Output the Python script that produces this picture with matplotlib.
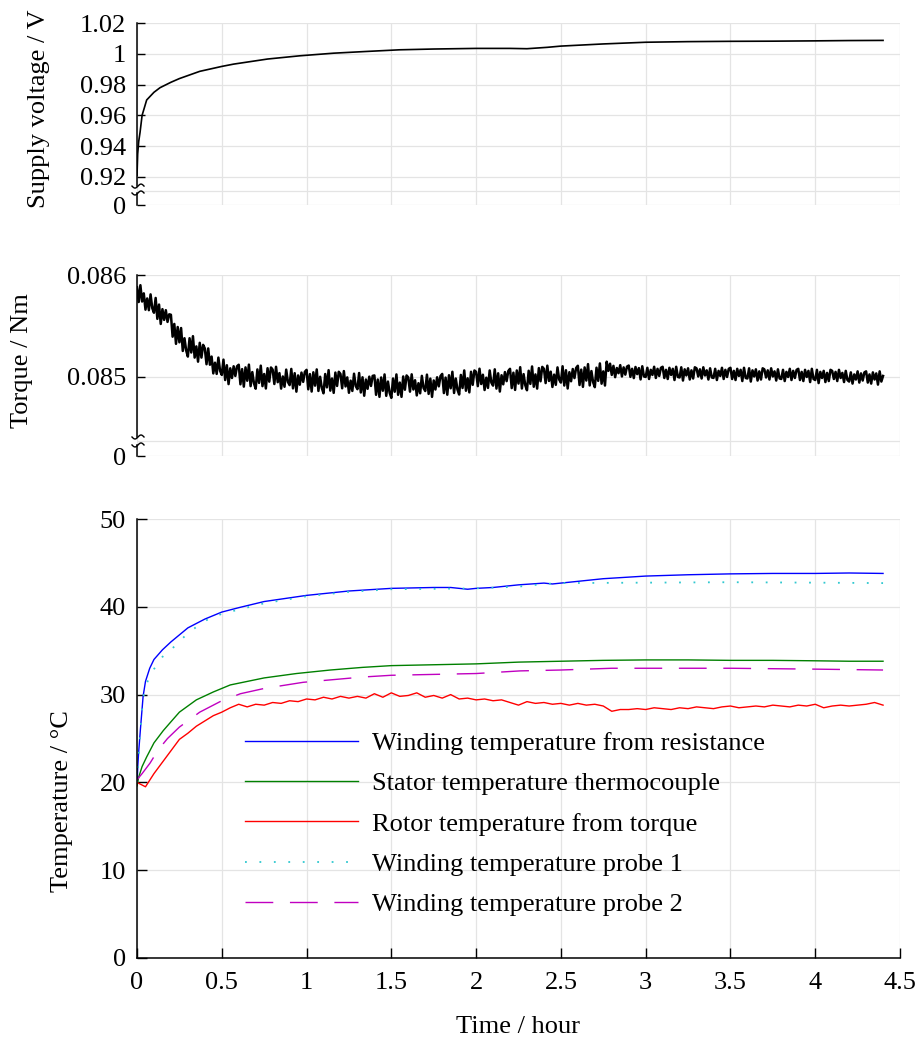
import numpy as np
import matplotlib
matplotlib.use('Agg')
import matplotlib.pyplot as plt

plt.rcParams['font.family'] = ['Liberation Serif', 'DejaVu Serif']
plt.rcParams['font.size'] = 19

# ---- supply voltage (V) ----
volt_t = [0, 0.004, 0.01, 0.018, 0.03, 0.057, 0.1, 0.136, 0.2, 0.25, 0.37, 0.5, 0.57,
          0.77, 0.96, 1.16, 1.35, 1.55, 1.75, 2.0, 2.2, 2.3, 2.42, 2.5, 2.75, 3.0,
          3.25, 3.5, 3.75, 4.0, 4.2, 4.4]
volt_v = [0.921, 0.935, 0.943, 0.949, 0.960, 0.970, 0.975, 0.978, 0.9815, 0.9839,
          0.9886, 0.9918, 0.9933, 0.9966, 0.9987, 1.0004, 1.0015, 1.0026, 1.0031,
          1.0035, 1.0035, 1.0033, 1.0042, 1.0050, 1.0064, 1.0075, 1.0079, 1.0081,
          1.0082, 1.0084, 1.0086, 1.0087]

# ---- torque: offset from 85 mNm in uNm, one value every 0.01 h (0 .. 4.4 h) ----
torque_dev_uNm = [
    880, 735, 900, 740, 820, 660, 770, 655, 810, 675, 630, 775, 570, 710, 520, 665, 560, 655, 540, 615,
    610, 395, 520, 325, 490, 340, 480, 255, 380, 260, 200, 380, 240, 400, 190, 300, 150, 335, 190, 315,
    280, 125, 280, 120, 200, 35, 140, 30, 190, 60, 20, 170, -30, 115, -70, 85, -10, 105, 10, 105,
    120, -72, 77, -95, 94, -37, 121, -90, 48, -63, -115, 74, -58, 111, -90, 29, -113, 86, -46, 93,
    72, -69, 100, -51, 38, -114, 5, -96, 72, -49, -80, 79, -112, 37, -144, 15, -76, 43, -48, 51,
    70, -121, 28, -143, 46, -85, 74, -137, 2, -109, -160, 29, -102, 67, -134, -15, -156, 43, -88, 51,
    30, -111, 58, -93, -4, -155, -36, -137, 32, -89, -120, 39, -152, -3, -184, -25, -116, 3, -88, 11,
    15, -175, -25, -195, -5, -135, 25, -185, -45, -155, -205, -15, -145, 25, -175, -55, -195, 5, -125, 15,
    -5, -144, 26, -123, -32, -181, -61, -160, 11, -108, -138, 23, -166, -16, -195, -34, -123, -3, -92, 9,
    30, -158, -6, -174, 17, -111, 51, -157, -15, -124, -172, 20, -108, 64, -135, -13, -151, 51, -77, 64,
    50, -90, 81, -69, 22, -128, -7, -107, 64, -56, -85, 75, -114, 36, -143, 17, -72, 48, -41, 59,
    80, -109, 42, -127, 64, -65, 96, -113, 28, -81, -130, 61, -68, 103, -96, 25, -114, 87, -42, 99,
    80, -60, 111, -39, 52, -98, 23, -77, 94, -26, -55, 105, -84, 66, -113, 47, -42, 78, -11, 89,
    110, -79, 72, -97, 94, -35, 126, -83, 58, -51, -100, 91, -38, 133, -66, 55, -84, 150, 60, 130,
    20, 109, -2, 88, 37, 116, 5, 94, 23, 102, 112, 1, 80, -11, 98, 28, 87, -24, 105, 5,
    0, 90, -20, 70, 20, 100, -10, 80, 10, 90, 100, -10, 70, -20, 90, 20, 80, -30, 100, 0,
    -5, 95, -35, 75, 15, 85, -25, 65, -15, 95, 85, 5, 75, -15, 95, 15, 65, -25, 85, -5,
    -10, 80, -30, 60, 10, 90, -20, 70, 0, 80, 90, -20, 60, -30, 80, 10, 70, -40, 90, -10,
    -15, 85, -45, 65, 5, 75, -35, 55, -25, 85, 75, -5, 65, -25, 85, 5, 55, -35, 75, -15,
    -20, 70, -40, 50, 0, 80, -30, 60, -10, 70, 80, -30, 50, -40, 70, 0, 60, -50, 80, -20,
    -30, 70, -60, 50, -10, 60, -50, 40, -40, 70, 60, -20, 50, -40, 70, -10, 40, -50, 60, -30,
    -45, 45, -65, 25, -25, 55, -55, 35, -35, 45, 55, -55, 25, -65, 45, -25, 35, -75, 55, -45,
    10]
torque_t = np.linspace(0, 4.4, len(torque_dev_uNm))
torque_nm = 0.085 + np.array(torque_dev_uNm) * 1e-6

# ---- temperatures (deg C) ----
blue_t = [0, 0.005, 0.01, 0.02, 0.036, 0.05, 0.075, 0.1, 0.15, 0.2, 0.3, 0.4, 0.5, 0.6,
          0.75, 1.0, 1.25, 1.5, 1.75, 1.85, 1.95, 2.0, 2.1, 2.25, 2.4, 2.45, 2.5, 2.6,
          2.75, 3.0, 3.25, 3.5, 3.75, 4.0, 4.2, 4.4]
blue_v = [19.8, 22.0, 23.5, 26.0, 29.8, 31.5, 33.0, 34.0, 35.1, 36.0, 37.6, 38.6, 39.4,
          39.9, 40.6, 41.3, 41.8, 42.1, 42.2, 42.2, 42.0, 42.1, 42.2, 42.5, 42.7, 42.6,
          42.7, 42.9, 43.2, 43.5, 43.65, 43.75, 43.8, 43.8, 43.85, 43.8]

green_t = [0, 0.01, 0.03, 0.057, 0.1, 0.155, 0.2, 0.25, 0.35, 0.45, 0.55, 0.75, 0.94,
           1.14, 1.33, 1.5, 1.75, 2.0, 2.25, 2.5, 2.75, 3.0, 3.25, 3.5, 3.75, 4.0, 4.2, 4.4]
green_v = [19.6, 20.6, 21.8, 22.9, 24.5, 25.9, 26.9, 28.0, 29.4, 30.3, 31.1, 31.9, 32.4,
           32.8, 33.1, 33.3, 33.4, 33.5, 33.7, 33.8, 33.9, 33.95, 33.95, 33.9, 33.9,
           33.85, 33.8, 33.8]

# rotor temperature, every 0.05 h
red_v = [20.0, 19.5, 21.0, 22.3, 23.6, 24.9, 25.6, 26.4, 27.0, 27.6,
         28.0, 28.5, 28.9, 28.6, 28.9, 28.8, 29.1, 29.0, 29.3, 29.2,
         29.5, 29.4, 29.7, 29.5, 29.8, 29.6, 29.8, 29.6, 30.1, 29.7,
         30.2, 29.8, 29.9, 30.2, 29.7, 29.9, 29.6, 30.0, 29.5, 29.6,
         29.4, 29.5, 29.3, 29.4, 29.1, 28.8, 29.2, 29.0, 29.1, 28.9,
         29.0, 28.8, 29.0, 28.8, 28.9, 28.7, 28.1, 28.3, 28.3, 28.4,
         28.3, 28.5, 28.4, 28.3, 28.5, 28.4, 28.6, 28.5, 28.4, 28.6,
         28.7, 28.5, 28.6, 28.7, 28.6, 28.8, 28.7, 28.6, 28.8, 28.7,
         28.9, 28.5, 28.7, 28.8, 28.7, 28.8, 28.9, 29.1, 28.8]
red_t = np.linspace(0, 4.4, len(red_v))

cyan_t = [0, 0.01, 0.02, 0.036, 0.05, 0.075, 0.1, 0.15, 0.2, 0.3, 0.4, 0.5, 0.75, 1.0,
          1.25, 1.5, 2.0, 2.25, 2.4, 2.5, 3.0, 3.5, 4.0, 4.4]
cyan_v = [20.0, 23.0, 26.0, 29.5, 31.0, 32.0, 32.9, 34.3, 35.1, 37.0, 38.4, 39.2, 40.4,
          41.2, 41.7, 42.0, 42.1, 42.3, 42.6, 42.7, 42.75, 42.8, 42.75, 42.7]

mag_t = [0, 0.03, 0.077, 0.125, 0.18, 0.25, 0.37, 0.49, 0.61, 0.75, 0.98, 1.33, 1.5,
         2.0, 2.26, 2.5, 2.8, 3.0, 3.5, 4.0, 4.4]
mag_v = [20.3, 21.0, 22.2, 23.7, 25.0, 26.3, 28.0, 29.2, 30.1, 30.7, 31.4, 32.0, 32.2,
         32.4, 32.7, 32.8, 33.0, 33.0, 33.0, 32.9, 32.8]

labels = ['Winding temperature from resistance', 'Stator temperature thermocouple',
          'Rotor temperature from torque', 'Winding temperature probe 1',
          'Winding temperature probe 2']

GRID = '#e4e4e4'
W, H = 917, 1039
fig = plt.figure(figsize=(W / 100, H / 100), dpi=100)

left, width = 137 / W, 763 / W
ax1 = fig.add_axes([left, 1 - 205 / H, width, 182 / H])
ax2 = fig.add_axes([left, 1 - 456 / H, width, 181 / H])
ax3 = fig.add_axes([left, 1 - 958 / H, width, 439 / H])

xticks = np.arange(0, 4.51, 0.5)


def broken_axis(ax, f_lo, f_hi, f_grid, h_px):
    # left axis drawn in two pieces with small wavy break marks
    tr = ax.transAxes
    ax.plot([0, 0], [0, f_lo], color='k', lw=1.1, transform=tr, clip_on=False)
    ax.plot([0, 0], [f_hi, 1], color='k', lw=1.1, transform=tr, clip_on=False)
    s = np.linspace(-1, 1, 40)
    for f in (f_lo, f_hi):
        ax.plot(s * 6 / 763 + 1 / 763, f + np.sin(s * np.pi) * 2.0 / h_px,
                color='k', lw=1.0, transform=tr, clip_on=False)
    lo, hi = ax.get_ylim()
    ax.axhline(lo + f_grid * (hi - lo), color=GRID, lw=0.9, zorder=0)


for ax in (ax1, ax2, ax3):
    ax.set_xlim(0, 4.5)
    ax.set_xticks(xticks)
    ax.grid(True, color=GRID, lw=0.9)
    ax.set_axisbelow(True)
    for sp in ('top', 'right'):
        ax.spines[sp].set_visible(False)
    ax.tick_params(axis='y', direction='in', length=6, width=1, pad=8)

# top: supply voltage
ax1.plot(volt_t, volt_v, color='k', lw=1.2)
y0v = 0.9018
ax1.set_ylim(y0v, 1.02)
ax1.set_yticks([y0v, 0.92, 0.94, 0.96, 0.98, 1.0, 1.02])
ax1.set_yticklabels(['0', '0.92', '0.94', '0.96', '0.98', '1', '1.02'])
ax1.spines['left'].set_visible(False)
ax1.spines['bottom'].set_visible(False)
ax1.tick_params(axis='x', length=0, labelbottom=False)
ax1.set_ylabel('Supply voltage / V')
ax1.yaxis.set_label_coords(-0.114, 0.527)
broken_axis(ax1, 0.066, 0.104, 0.077, 182)

# middle: torque
ax2.plot(torque_t, torque_nm, color='k', lw=1.8)
y0t = 0.084225
ax2.set_ylim(y0t, 0.086)
ax2.set_yticks([y0t, 0.085, 0.086])
ax2.set_yticklabels(['0', '0.085', '0.086'])
ax2.spines['left'].set_visible(False)
ax2.spines['bottom'].set_visible(False)
ax2.tick_params(axis='x', length=0, labelbottom=False)
ax2.set_ylabel('Torque / Nm')
ax2.yaxis.set_label_coords(-0.136, 0.53)
broken_axis(ax2, 0.061, 0.105, 0.083, 181)

# bottom: temperatures
ax3.plot(blue_t, blue_v, color='#0000ff', lw=1.0, label=labels[0])
ax3.plot(green_t, green_v, color='#008000', lw=1.0, label=labels[1])
ax3.plot(red_t, red_v, color='#ff0000', lw=1.0, label=labels[2])
ax3.plot(cyan_t, cyan_v, color='#30c8d0', lw=1.3, linestyle=(0, (1, 7)), label=labels[3])
ax3.plot(mag_t, mag_v, color='#c000c0', lw=1.0, linestyle=(0, (20, 12)), label=labels[4])
ax3.set_ylim(0, 50)
ax3.set_yticks(np.arange(0, 51, 10))
ax3.set_xticklabels(['0', '0.5', '1', '1.5', '2', '2.5', '3', '3.5', '4', '4.5'])
ax3.tick_params(axis='x', direction='in', length=7, width=1, pad=10)
ax3.tick_params(axis='y', length=7)
ax3.spines['left'].set_linewidth(1.1)
ax3.spines['bottom'].set_linewidth(1.1)
ax3.set_ylabel('Temperature / \u00b0C')
ax3.yaxis.set_label_coords(-0.084, 0.357)
ax3.set_xlabel('Time / hour', labelpad=16)

ax3.legend(loc='upper left', bbox_to_anchor=(0.1415, 0.516), frameon=False,
           borderpad=0, borderaxespad=0, handlelength=4.3, handletextpad=0.53,
           labelspacing=0.64)

fig.savefig('out.png', dpi=100)
